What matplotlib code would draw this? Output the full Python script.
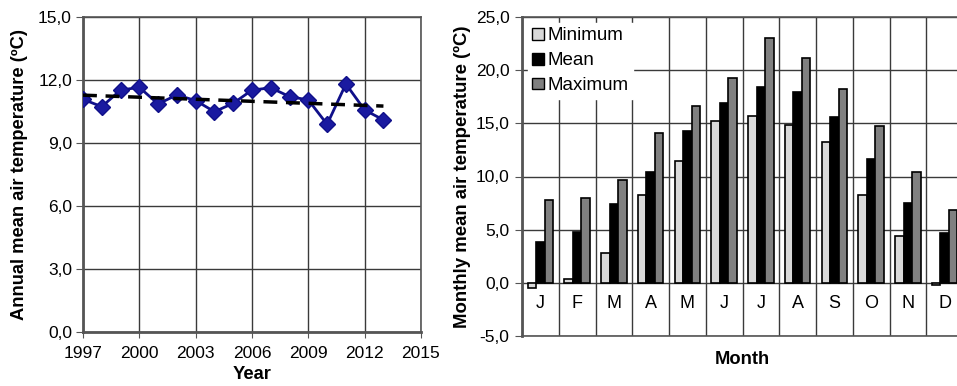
import numpy as np
import matplotlib
matplotlib.use("Agg")
import matplotlib.pyplot as plt
from matplotlib.ticker import FuncFormatter, MultipleLocator
from matplotlib.patches import Patch

plt.rcParams['font.family'] = ['Liberation Sans', 'DejaVu Sans']

# Annual series
years = [1997, 1998, 1999, 2000, 2001, 2002, 2003, 2004, 2005,
         2006, 2007, 2008, 2009, 2010, 2011, 2012, 2013]
annual_mean = [11.08, 10.73, 11.52, 11.65, 10.86, 11.29, 11.02, 10.49, 10.89,
               11.52, 11.63, 11.21, 11.05, 9.89, 11.81, 10.57, 10.10]
year_ticks = [1997, 2000, 2003, 2006, 2009, 2012, 2015]

# Monthly climatology
months = ["J", "F", "M", "A", "M", "J", "J", "A", "S", "O", "N", "D"]
t_min = [-0.5, 0.35, 2.8, 8.3, 11.5, 15.2, 15.7, 14.8, 13.2, 8.3, 4.4, -0.25]
t_mean = [3.85, 4.75, 7.4, 10.45, 14.25, 16.9, 18.4, 17.95, 15.6, 11.65, 7.55, 4.65]
t_max = [7.75, 8.0, 9.65, 14.1, 16.6, 19.25, 23.0, 21.15, 18.2, 14.75, 10.4, 6.85]

W, H = 957, 386
fig = plt.figure(figsize=(W / 100, H / 100), dpi=100)

def comma(v, pos):
    return f"{v:.1f}".replace('.', ',')

grid_col = '#3a3a3a'
spine_col = '#555555'
fs = 12.5
lab_fs = 13.2

# ---- Left panel: annual mean air temperature ----
axl = fig.add_axes([83 / W, (H - 332) / H, (421 - 83) / W, (332 - 17) / H])
axl.plot(years, annual_mean, color='#10108a', lw=2, marker='D', ms=8,
         mec='#10108a', mfc='#1a1aa0', zorder=4)
coef = np.polyfit(years, annual_mean, 1)
yr = np.array([years[0], years[-1]])
axl.plot(yr, np.polyval(coef, yr), color='black', lw=2.5, ls=(0, (4, 2.5)), zorder=5)
axl.set_xlim(1997, 2015)
axl.set_ylim(0, 15)
axl.set_xticks(year_ticks)
axl.yaxis.set_major_locator(MultipleLocator(3))
axl.yaxis.set_major_formatter(FuncFormatter(comma))
axl.grid(True, color=grid_col, lw=1)
axl.set_axisbelow(True)
for s in axl.spines.values():
    s.set_color(spine_col)
    s.set_linewidth(1.2)
axl.spines['left'].set_linewidth(2)
axl.spines['bottom'].set_linewidth(2)
axl.tick_params(axis='y', labelsize=fs, length=5, color=spine_col, pad=3)
axl.tick_params(axis='x', labelsize=fs, length=4, color=spine_col, pad=6)
axl.set_xlabel("Year", fontsize=lab_fs, fontweight='bold', labelpad=4)
axl.set_ylabel("Annual mean air temperature (ºC)", fontsize=lab_fs,
               fontweight='bold', labelpad=7)

# ---- Right panel: monthly min / mean / max ----
axr = fig.add_axes([522 / W, (H - 336) / H, (12 * 36.75) / W, (336 - 17) / H])
x = np.arange(len(months))
bw = 0.23
axr.bar(x - bw, t_min, bw, color='#d9d9d9', edgecolor='black', lw=1.2, zorder=3)
axr.bar(x, t_mean, bw, color='black', edgecolor='black', lw=1.2, zorder=3)
axr.bar(x + bw, t_max, bw, color='#808080', edgecolor='black', lw=1.2, zorder=3)
axr.set_xlim(-0.5, len(months) - 0.5)
axr.set_ylim(-5, 25)
axr.yaxis.set_major_locator(MultipleLocator(5))
axr.yaxis.set_major_formatter(FuncFormatter(comma))
axr.set_xticks(np.arange(len(months) + 1) - 0.5)
axr.set_xticklabels([])
axr.tick_params(axis='x', length=0)
axr.tick_params(axis='y', labelsize=fs, length=5, color=spine_col, pad=4)
axr.grid(True, color=grid_col, lw=1)
axr.set_axisbelow(True)
for s in axr.spines.values():
    s.set_color(spine_col)
    s.set_linewidth(1.2)
axr.spines['left'].set_linewidth(2)
for xi, m in zip(x, months):
    axr.text(xi, -1.9, m, ha='center', va='center', fontsize=13)
axr.set_xlabel("Month", fontsize=lab_fs, fontweight='bold', labelpad=7)
axr.set_ylabel("Monthly mean air temperature (ºC)", fontsize=13.4,
               fontweight='bold', labelpad=3)

handles = [Patch(facecolor='#d9d9d9', edgecolor='black', label='Minimum'),
           Patch(facecolor='black', edgecolor='black', label='Mean'),
           Patch(facecolor='#808080', edgecolor='black', label='Maximum')]
leg = axr.legend(handles=handles, loc='upper left', bbox_to_anchor=(0.0, 1.0),
                 fontsize=13.5, frameon=True, fancybox=False, framealpha=1,
                 facecolor='white', edgecolor='white', handlelength=0.6,
                 handleheight=0.6, handletextpad=0.2, labelspacing=0.42,
                 borderpad=0.25, borderaxespad=0.3)
leg.set_zorder(6)

fig.savefig("out.png", dpi=100)
